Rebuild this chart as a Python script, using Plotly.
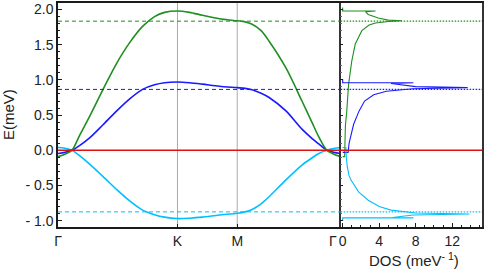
import plotly.graph_objects as go

# ---------------- data ----------------
# band structure along Γ-K-M-Γ (path coordinate, K=1, M=1.5, Γ=1.5+√3/2)
k_path = [0, 0.058, 0.117, 0.183, 0.267, 0.375, 0.492, 0.6, 0.708, 0.808, 0.892,
          1.0, 1.1, 1.208, 1.35, 1.5, 1.567, 1.625, 1.7, 1.767, 1.908, 2.042,
          2.125, 2.183, 2.25, 2.308, 2.366]
E_green = [-0.09, -0.055, 0.0, 0.22, 0.49, 0.86, 1.24, 1.53, 1.76, 1.90, 1.96,
           1.98, 1.96, 1.92, 1.87, 1.84, 1.825, 1.79, 1.70, 1.55, 1.17, 0.70,
           0.40, 0.19, 0.0, -0.055, -0.09]
E_blue = [-0.045, -0.03, 0.0, 0.07, 0.18, 0.36, 0.56, 0.73, 0.865, 0.93, 0.96,
          0.97, 0.96, 0.94, 0.91, 0.89, 0.88, 0.86, 0.81, 0.75, 0.56, 0.30,
          0.17, 0.09, 0.0, -0.03, -0.045]
E_cyan = [0.04, 0.03, 0.0, -0.08, -0.20, -0.37, -0.56, -0.72, -0.85, -0.915, -0.95,
          -0.97, -0.965, -0.95, -0.92, -0.895, -0.875, -0.84, -0.76, -0.66, -0.42, -0.21,
          -0.11, -0.045, 0.0, 0.025, 0.04]

sym_labels = ["Γ", "K", "M", "Γ"]
sym_k = [0, 1.0, 1.5, 2.366]

# density of states (E, DOS) per band
dos_green_E = [-0.09, -0.09, 0.1, 0.35, 0.56, 0.94, 1.27, 1.51, 1.70, 1.78, 1.81,
               1.83, 1.84, 1.85, 1.88, 1.93, 1.97, 1.98, 1.98, 2.03]
dos_green = [0, 0.22, 0.25, 0.3, 0.45, 0.65, 1.0, 1.38, 2.1, 2.9, 3.6,
             5.0, 6.5, 5.0, 3.9, 2.8, 2.5, 3.6, 0, 0]
dos_blue_E = [-0.03, -0.03, 0.1, 0.19, 0.37, 0.56, 0.70, 0.79, 0.84, 0.875, 0.89,
              0.905, 0.93, 0.95, 0.96, 0.96, 1.01]
dos_blue = [0, 0.6, 0.7, 0.85, 1.2, 1.8, 2.4, 3.4, 4.8, 7.7, 13.7,
            8.0, 6.3, 5.3, 7.75, 0, 0]
dos_cyan_E = [0.04, 0.04, -0.1, -0.23, -0.36, -0.42, -0.59, -0.71, -0.80, -0.85, -0.89,
              -0.905, -0.92, -0.94, -0.955, -0.96, -0.96, -1.0]
dos_cyan = [0, 0.35, 0.4, 0.5, 0.7, 0.9, 1.74, 2.8, 4.0, 5.3, 8.0,
            13.9, 7.7, 6.3, 5.5, 7.75, 0, 0]

# reference energies (dashed / dotted lines)
ref_E = [1.835, 0.865, -0.875]

E_ticks = [-1.0, -0.5, 0.0, 0.5, 1.0, 1.5, 2.0]
E_ticktext = ["- 1.0", "- 0.5", "0.0", "0.5", "1.0", "1.5", "2.0"]
dos_ticks = [0, 4, 8, 12]

# ---------------- styling ----------------
GREEN = "#1f8f1f"
BLUE = "#1a1aff"
CYAN = "#00bfff"
RED = "#dd1111"
band_colors = [GREEN, BLUE, CYAN]
FONT = "Liberation Sans, Arial, sans-serif"
AX = "#1a1a1a"

fig = go.Figure()

# vertical gray lines at K and M
for kk in sym_k[1:3]:
    fig.add_shape(type="line", xref="x", yref="y domain", x0=kk, x1=kk, y0=0, y1=1,
                  line=dict(color="#aaaaaa", width=1), layer="below")

# reference lines: dashed on left, dotted on right
for e, c in zip(ref_E, band_colors):
    fig.add_shape(type="line", xref="x domain", yref="y", x0=0, x1=1, y0=e, y1=e,
                  line=dict(color=c, width=1, dash="4px,3px"))
    fig.add_shape(type="line", xref="x2 domain", yref="y2", x0=0, x1=1, y0=e, y1=e,
                  line=dict(color=c, width=1.2, dash="1.5px,1.5px"))

# bands
for E, c in zip([E_cyan, E_blue, E_green], [CYAN, BLUE, GREEN]):
    fig.add_trace(go.Scatter(x=k_path, y=E, mode="lines", xaxis="x", yaxis="y",
                             line=dict(color=c, width=1.6, shape="spline", smoothing=0.8),
                             showlegend=False, hoverinfo="skip"))

# DOS
for D, E, c in [(dos_green, dos_green_E, GREEN), (dos_blue, dos_blue_E, BLUE),
                (dos_cyan, dos_cyan_E, CYAN)]:
    fig.add_trace(go.Scatter(x=D, y=E, mode="lines", xaxis="x2", yaxis="y2",
                             line=dict(color=c, width=1.1),
                             showlegend=False, hoverinfo="skip"))

# zero energy line across both panels
fig.add_shape(type="line", xref="paper", yref="y", x0=0, x1=1, y0=0, y1=0,
              line=dict(color=RED, width=1.6))

split = 284 / 426
E_range = [-1.09, 2.093]

fig.update_layout(
    width=485, height=272,
    margin=dict(l=58, r=1, t=1, b=45),
    paper_bgcolor="white", plot_bgcolor="white",
    font=dict(family=FONT, size=13, color="#222222"),
    xaxis=dict(domain=[0, split], range=[0, sym_k[-1]], showgrid=False, zeroline=False,
               showline=True, linecolor=AX, linewidth=1.5, mirror=True,
               tickmode="array", tickvals=sym_k[:3], ticktext=sym_labels[:3],
               ticks="inside", ticklen=3, tickcolor=AX, tickfont=dict(size=14)),
    yaxis=dict(range=E_range, showgrid=False, zeroline=False,
               showline=True, linecolor=AX, linewidth=1.5, mirror=False,
               tickmode="array", tickvals=E_ticks, ticktext=E_ticktext,
               ticks="inside", ticklen=4, tickcolor=AX, tickfont=dict(size=14),
               minor=dict(tickmode="linear", tick0=0, dtick=0.1, ticks="inside",
                          ticklen=2, tickcolor=AX)),
    xaxis2=dict(domain=[split, 1], range=[-0.22, 15.27], anchor="y2",
                showgrid=False, zeroline=False,
                showline=True, linecolor=AX, linewidth=1.5, mirror=True,
                tickmode="array", tickvals=dos_ticks, ticktext=[str(t) for t in dos_ticks],
                ticks="inside", ticklen=4, tickcolor=AX, tickfont=dict(size=14),
                minor=dict(tickmode="linear", tick0=0, dtick=1, ticks="inside",
                           ticklen=2, tickcolor=AX)),
    yaxis2=dict(range=E_range, anchor="x2", matches="y", showgrid=False, zeroline=False,
                showline=True, linecolor="#333333", linewidth=1.5, mirror=True,
                showticklabels=False, tickmode="array", tickvals=E_ticks,
                ticks="inside", ticklen=3, tickcolor=AX,
                minor=dict(tickmode="linear", tick0=0, dtick=0.1, ticks="inside",
                           ticklen=1.5, tickcolor="#666666")),
    annotations=[
        dict(text=sym_labels[3], xref="x", yref="paper", x=sym_k[3], y=0,
             xanchor="right", yanchor="top", xshift=-2, yshift=-4, showarrow=False,
             font=dict(size=14)),
        dict(text="E(meV)", xref="paper", yref="paper", x=0, y=0.5, xshift=-50,
             textangle=-90, xanchor="center", yanchor="middle", showarrow=False,
             font=dict(size=15)),
        dict(text="DOS (meV<sup>- 1</sup>)", xref="paper", yref="paper",
             x=(split + 1) / 2, y=0, xshift=3, yshift=-32, xanchor="center",
             yanchor="middle", showarrow=False, font=dict(size=15)),
    ],
)

fig.write_html("out.html", config={"displayModeBar": False},
               post_script="document.body.style.margin='0px';document.body.style.overflow='hidden';")
